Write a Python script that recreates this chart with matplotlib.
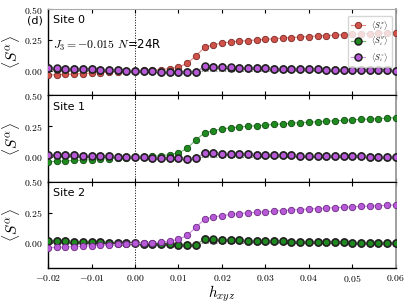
import numpy as np
import matplotlib
matplotlib.use('Agg')
import matplotlib.pyplot as plt
from matplotlib.ticker import FuncFormatter, MultipleLocator

plt.rcParams['mathtext.fontset'] = 'cm'

h = np.linspace(-0.02, 0.06, 41)

# dominant component of each site (rises after the transition)
site0_x = [-0.035, -0.032, -0.029, -0.026, -0.022, -0.019, -0.015, -0.012, -0.008, -0.004, 0.000,
           0.003, 0.006, 0.010, 0.018, 0.030, 0.060, 0.120,
           0.190, 0.212, 0.225, 0.234, 0.240, 0.245, 0.250, 0.255, 0.260, 0.265, 0.270, 0.274,
           0.278, 0.282, 0.286, 0.289, 0.292, 0.295, 0.298, 0.301, 0.304, 0.307, 0.310]
site1_y = [-0.037, -0.034, -0.031, -0.027, -0.024, -0.020, -0.016, -0.012, -0.008, -0.004, 0.000,
           0.003, 0.007, 0.012, 0.020, 0.035, 0.070, 0.140,
           0.197, 0.215, 0.228, 0.238, 0.244, 0.250, 0.255, 0.260, 0.265, 0.270, 0.275, 0.279,
           0.283, 0.287, 0.291, 0.295, 0.298, 0.302, 0.306, 0.309, 0.312, 0.316, 0.320]
site2_z = [-0.035, -0.032, -0.029, -0.026, -0.022, -0.019, -0.015, -0.012, -0.008, -0.004, 0.000,
           0.003, 0.007, 0.011, 0.019, 0.033, 0.065, 0.130,
           0.197, 0.214, 0.226, 0.235, 0.242, 0.247, 0.252, 0.257, 0.262, 0.267, 0.271, 0.275,
           0.279, 0.283, 0.287, 0.290, 0.293, 0.297, 0.300, 0.303, 0.306, 0.309, 0.313]

# the two small components (nearly on top of each other)
flat_a = [0.020, 0.019, 0.017, 0.015, 0.013, 0.011, 0.009, 0.007, 0.005, 0.002, 0.000,
          -0.002, -0.004, -0.006, -0.008, -0.010, -0.012, -0.010,
          0.035, 0.032, 0.029, 0.027, 0.025, 0.023, 0.021, 0.019, 0.018, 0.016, 0.015, 0.013,
          0.012, 0.011, 0.010, 0.009, 0.008, 0.007, 0.006, 0.005, 0.004, 0.003, 0.002]
flat_b = [0.019, 0.018, 0.016, 0.015, 0.013, 0.011, 0.009, 0.007, 0.004, 0.002, 0.000,
          -0.002, -0.004, -0.006, -0.008, -0.010, -0.012, -0.011,
          0.034, 0.031, 0.029, 0.026, 0.024, 0.022, 0.021, 0.019, 0.017, 0.016, 0.014, 0.013,
          0.012, 0.011, 0.010, 0.009, 0.008, 0.007, 0.006, 0.005, 0.004, 0.003, 0.002]

sites = [
    {'x': site0_x, 'y': flat_b, 'z': flat_a, 'dom': 'x'},
    {'x': flat_b, 'y': site1_y, 'z': flat_a, 'dom': 'y'},
    {'x': flat_b, 'y': flat_a, 'z': site2_z, 'dom': 'z'},
]
site_labels = ['Site 0', 'Site 1', 'Site 2']
comp_colors = {'x': '#d0524a', 'y': '#1f8a1f', 'z': '#b85ad8'}
comp_edges = {'x': '#7a2a25', 'y': '#104a10', 'z': '#6a2a80'}
line_colors = {'x': '#e08a84', 'y': '#6cb86c', 'z': '#cf93e6'}
legend_labels = {'x': r'$\langle S_i^x\rangle$', 'y': r'$\langle S_i^y\rangle$',
                 'z': r'$\langle S_i^z\rangle$'}

fig, axes = plt.subplots(3, 1, figsize=(4.11, 3.05), dpi=100, sharex=True)
fig.subplots_adjust(left=0.117, right=0.963, top=0.970, bottom=0.121, hspace=0)

fmt = FuncFormatter(lambda v, p: '$%.2f$' % v if abs(v) > 1e-9 else '$0.00$')

for i, ax in enumerate(axes):
    s = sites[i]
    for c in ['x', 'y', 'z']:
        if c == s['dom']:
            ax.plot(h, s[c], color=line_colors[c], lw=0.8, marker='o', ms=4.6,
                    mfc=comp_colors[c], mec=comp_edges[c], mew=0.6, zorder=3,
                    label=legend_labels[c])
        else:
            ax.plot(h, s[c], color=line_colors[c], lw=0.8, marker='o', ms=5,
                    mfc=comp_colors[c], mec='#222222', mew=1.1, zorder=3,
                    label=legend_labels[c])
    ax.axvline(0, color='black', ls=':', lw=0.7, zorder=1)
    ax.axhline(0, color='gray', ls=':', lw=0.8, zorder=1)
    ax.set_xlim(-0.02, 0.06)
    ax.set_ylim(-0.2, 0.5)
    ax.set_yticks([0.0, 0.25, 0.5])
    ax.yaxis.set_major_formatter(fmt)
    ax.xaxis.set_major_locator(MultipleLocator(0.01))
    ax.xaxis.set_major_formatter(fmt)
    ax.tick_params(direction='in', top=True, labelsize=7, length=3, width=0.8)
    ax.set_ylabel(r'$\langle S^\alpha\rangle$', fontsize=11, labelpad=2)
    ax.text(0.015, 0.93, site_labels[i], transform=ax.transAxes, fontsize=8,
            va='top', ha='left')
    ax.spines['right'].set_color('#999999')
    ax.spines['right'].set_linewidth(1.3)
    ax.spines['left'].set_linewidth(1.0)
    ax.spines['bottom'].set_linewidth(1.0)

axes[0].spines['top'].set_color('#aaaaaa')
axes[0].text(-0.015, 0.93, '(d)', transform=axes[0].transAxes, fontsize=8,
             va='top', ha='right')
axes[0].text(0.015, 0.58, r'$J_3=-0.015$ $N$=24R', transform=axes[0].transAxes,
             fontsize=8.5, va='center', ha='left')
axes[0].legend(loc='upper right', fontsize=5.5, handlelength=1.8, framealpha=0.8,
               borderpad=0.4, labelspacing=0.4, edgecolor='#cccccc',
               bbox_to_anchor=(1.0, 0.97))
axes[2].set_xlabel(r'$h_{xyz}$', fontsize=11, labelpad=0)

fig.savefig('out.png', dpi=100)
